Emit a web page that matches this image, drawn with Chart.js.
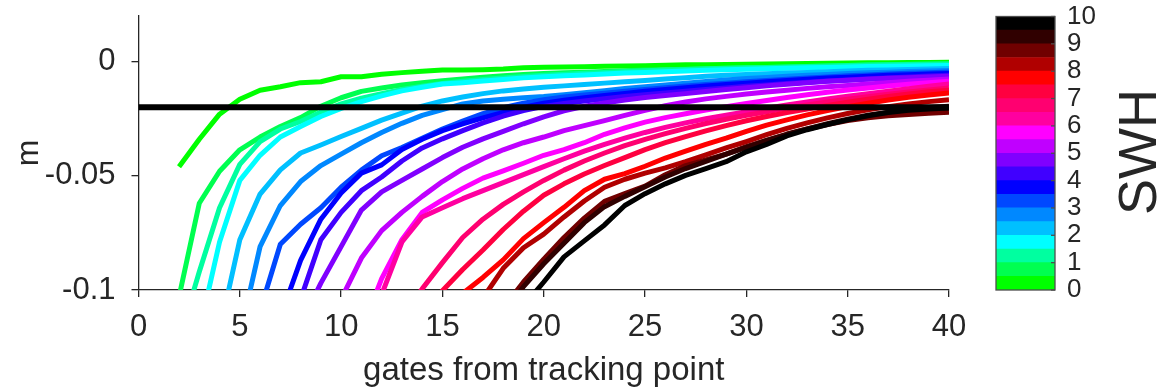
<!DOCTYPE html>
<html>
<head>
<meta charset="utf-8">
<script src="https://cdn.jsdelivr.net/npm/chart.js@4.4.1/dist/chart.umd.min.js"></script>
<style>
  body { margin: 0; background: #fff; }
  #wrap { position: relative; width: 1163px; height: 389px; }
  #errChart { position: absolute; left: 0; top: 0; }
  #barChart { position: absolute; left: 960px; top: 0; }
  #swhLabel {
    position: absolute; left: 1137px; top: 152px;
    transform: translate(-50%, -50%) rotate(-90deg);
    font: 54px "Liberation Sans", Arial, sans-serif;
    color: #262626; white-space: nowrap;
  }
</style>
</head>
<body>
<div id="wrap">
  <canvas id="errChart" width="1163" height="389"></canvas>
  <canvas id="barChart" width="203" height="389"></canvas>
  <div id="swhLabel">SWH</div>
</div>
<script>
const FONT = '"Liberation Sans", Arial, sans-serif';
const INK = '#262626';

// SWH bins (m), one colour per bin
const swhEdges = [0, 0.5, 1, 1.5, 2, 2.5, 3, 3.5, 4, 4.5, 5, 5.5, 6, 6.5, 7, 7.5, 8, 8.5, 9, 9.5, 10];
const swhColors = ['#00ff00', '#00ff50', '#00ffa0', '#00ffff', '#00c0ff', '#0088ff', '#0048ff', '#0000ff',
                   '#4000ff', '#8000ff', '#c000ff', '#ff00ff', '#ff00a0', '#ff0070', '#ff0040', '#ff0000',
                   '#b00000', '#700000', '#300000', '#000000'];

// gate where each bin's curve begins
const firstGate = [2, 2, 2, 3, 4, 5, 6, 7, 8, 8, 10, 11, 12, 13, 14, 16, 17, 18, 18, 19];

// mean error (m) per gate, one array per SWH bin
const bin01 = [-0.046, -0.034, -0.023, -0.0165, -0.0125, -0.011, -0.0092, -0.0088, -0.0066, -0.0066, -0.0055, -0.0048, -0.0042, -0.0037, -0.0037, -0.0035, -0.0032, -0.0027, -0.0024, -0.0023, -0.0022, -0.002, -0.0019, -0.0018, -0.0016, -0.0014, -0.0013, -0.0012, -0.0011, -0.001, -0.0009, -0.0008, -0.0007, -0.0006, -0.0005, -0.0005, -0.0004, -0.0004, -0.0003];
const bin02 = [-0.103, -0.062, -0.048, -0.0386, -0.033, -0.0284, -0.0245, -0.0195, -0.0158, -0.013, -0.0115, -0.0102, -0.0092, -0.0083, -0.0076, -0.0068, -0.0062, -0.0056, -0.0052, -0.0049, -0.0046, -0.0043, -0.004, -0.0037, -0.0035, -0.0033, -0.0031, -0.0029, -0.0027, -0.0025, -0.0023, -0.0021, -0.0019, -0.0017, -0.0015, -0.0013, -0.0011, -0.001, -0.0009];
const bin03 = [-0.122, -0.092, -0.064, -0.045, -0.035, -0.0295, -0.0262, -0.022, -0.0185, -0.016, -0.014, -0.0122, -0.0108, -0.0096, -0.0086, -0.0078, -0.0071, -0.0065, -0.006, -0.0055, -0.0051, -0.0047, -0.0043, -0.004, -0.0037, -0.0034, -0.0031, -0.0029, -0.0027, -0.0025, -0.0023, -0.0021, -0.0019, -0.0017, -0.0015, -0.0013, -0.0012, -0.0011, -0.001];
const bin04 = [-0.118, -0.079, -0.052, -0.041, -0.033, -0.0284, -0.024, -0.0205, -0.0175, -0.015, -0.0128, -0.0112, -0.0098, -0.0092, -0.0085, -0.0078, -0.0071, -0.0066, -0.0062, -0.0058, -0.0054, -0.005, -0.0047, -0.0044, -0.0041, -0.0038, -0.0035, -0.0033, -0.0031, -0.0029, -0.0027, -0.0025, -0.0023, -0.0021, -0.002, -0.0019, -0.0018, -0.0017];
const bin05 = [-0.118, -0.078, -0.058, -0.0474, -0.04, -0.0365, -0.0328, -0.0292, -0.0256, -0.0225, -0.0195, -0.0172, -0.0155, -0.014, -0.0128, -0.012, -0.0112, -0.0106, -0.01, -0.0094, -0.0088, -0.0082, -0.0076, -0.007, -0.0064, -0.006, -0.0056, -0.0053, -0.005, -0.0047, -0.0044, -0.0041, -0.0038, -0.0036, -0.0034, -0.0032, -0.003];
const bin06 = [-0.12, -0.081, -0.063, -0.0525, -0.0455, -0.0405, -0.0355, -0.031, -0.027, -0.0235, -0.021, -0.0185, -0.0172, -0.0165, -0.0158, -0.0153, -0.0145, -0.0136, -0.0127, -0.0118, -0.011, -0.0102, -0.0094, -0.0087, -0.008, -0.0074, -0.0069, -0.0064, -0.006, -0.0056, -0.0052, -0.0049, -0.0046, -0.0043, -0.0041, -0.0039];
const bin07 = [-0.109, -0.08, -0.0712, -0.064, -0.055, -0.0475, -0.0412, -0.0376, -0.0335, -0.0295, -0.026, -0.0228, -0.0202, -0.0182, -0.0167, -0.0155, -0.0146, -0.0138, -0.013, -0.0122, -0.0114, -0.0107, -0.01, -0.0094, -0.0088, -0.0082, -0.0077, -0.0072, -0.0067, -0.0062, -0.0058, -0.0054, -0.0051, -0.0048, -0.0045];
const bin08 = [-0.112, -0.087, -0.069, -0.0575, -0.0488, -0.0452, -0.0385, -0.034, -0.0302, -0.0272, -0.0246, -0.0222, -0.0199, -0.0182, -0.0169, -0.0158, -0.0148, -0.0139, -0.013, -0.0122, -0.0114, -0.0107, -0.01, -0.0094, -0.0088, -0.0082, -0.0077, -0.0072, -0.0068, -0.0064, -0.006, -0.0057, -0.0054, -0.0052];
const bin09 = [-0.104, -0.078, -0.066, -0.0565, -0.0505, -0.0435, -0.0378, -0.0338, -0.0302, -0.0268, -0.0238, -0.0214, -0.0196, -0.0183, -0.0172, -0.0162, -0.0153, -0.0145, -0.0137, -0.0129, -0.0122, -0.0115, -0.0108, -0.0102, -0.0096, -0.009, -0.0085, -0.008, -0.0075, -0.0071, -0.0067, -0.0063, -0.006];
const bin10 = [-0.115, -0.097, -0.081, -0.065, -0.057, -0.052, -0.047, -0.042, -0.0375, -0.0338, -0.0305, -0.0272, -0.0242, -0.0215, -0.0195, -0.0181, -0.0168, -0.0157, -0.0148, -0.014, -0.0131, -0.0122, -0.0114, -0.0106, -0.0099, -0.0092, -0.0086, -0.0081, -0.0077, -0.0073, -0.007, -0.0067, -0.0064];
const bin11 = [-0.104, -0.086, -0.074, -0.066, -0.059, -0.0525, -0.047, -0.0425, -0.0386, -0.0355, -0.033, -0.0302, -0.028, -0.0258, -0.0235, -0.0213, -0.0193, -0.0177, -0.0163, -0.0152, -0.0142, -0.0133, -0.0125, -0.0117, -0.011, -0.0104, -0.0098, -0.0092, -0.0086, -0.0081, -0.0076];
const bin12 = [-0.118, -0.095, -0.078, -0.066, -0.0605, -0.0555, -0.051, -0.0478, -0.0445, -0.041, -0.0385, -0.0355, -0.0318, -0.029, -0.0265, -0.0245, -0.0228, -0.0212, -0.0197, -0.0183, -0.017, -0.0157, -0.0145, -0.0134, -0.0124, -0.0115, -0.0107, -0.0099, -0.0092, -0.0086];
const bin13 = [-0.102, -0.079, -0.068, -0.064, -0.06, -0.0565, -0.053, -0.0495, -0.046, -0.0425, -0.0392, -0.0362, -0.0335, -0.031, -0.0288, -0.0268, -0.025, -0.0234, -0.0219, -0.0204, -0.019, -0.0176, -0.0163, -0.0151, -0.014, -0.0129, -0.0118, -0.0108, -0.0098];
const bin14 = [-0.112, -0.0995, -0.088, -0.077, -0.069, -0.0625, -0.057, -0.052, -0.0475, -0.0435, -0.04, -0.0368, -0.034, -0.0315, -0.0292, -0.0271, -0.0252, -0.0235, -0.0219, -0.0204, -0.019, -0.0177, -0.0165, -0.0154, -0.0143, -0.0133, -0.0124, -0.0115];
const bin15 = [-0.11, -0.1003, -0.091, -0.0825, -0.0735, -0.0655, -0.0585, -0.0535, -0.0492, -0.0455, -0.042, -0.0385, -0.0355, -0.0328, -0.0303, -0.028, -0.0259, -0.024, -0.0223, -0.0207, -0.0192, -0.0178, -0.0165, -0.0153, -0.0142, -0.0132, -0.0125];
const bin16 = [-0.1015, -0.0945, -0.0868, -0.0775, -0.0705, -0.0638, -0.0565, -0.0515, -0.049, -0.0458, -0.0422, -0.0392, -0.0362, -0.0335, -0.0305, -0.0278, -0.0255, -0.0233, -0.0214, -0.0197, -0.0182, -0.0168, -0.0156, -0.0146, -0.0137];
const bin17 = [-0.1035, -0.0905, -0.0815, -0.0755, -0.068, -0.061, -0.055, -0.0515, -0.0488, -0.0465, -0.0438, -0.0408, -0.0378, -0.035, -0.032, -0.0292, -0.0268, -0.0246, -0.0227, -0.0211, -0.0197, -0.0185, -0.0175, -0.0167];
const bin18 = [-0.108, -0.0965, -0.0865, -0.077, -0.0685, -0.0612, -0.0578, -0.0545, -0.0495, -0.0455, -0.043, -0.0405, -0.0372, -0.0345, -0.0318, -0.0295, -0.0275, -0.0258, -0.0246, -0.0237, -0.0231, -0.0226, -0.0222];
const bin19 = [-0.111, -0.0985, -0.0885, -0.0795, -0.0705, -0.0635, -0.059, -0.0548, -0.0505, -0.0468, -0.0437, -0.0405, -0.0375, -0.0345, -0.0318, -0.0294, -0.0272, -0.0252, -0.0235, -0.0221, -0.021, -0.0201, -0.0195];
const bin20 = [-0.107, -0.0965, -0.0855, -0.0785, -0.0715, -0.063, -0.0578, -0.0535, -0.0498, -0.0468, -0.0438, -0.0395, -0.0362, -0.0325, -0.0298, -0.0275, -0.0255, -0.0237, -0.0223, -0.0213, -0.0207, -0.0203];

// reference level drawn across the whole range
const refGates = [0, 40];
const refLevel = -0.02;

const yTicks = [-0.1, -0.05, 0];

const curves = [bin01, bin02, bin03, bin04, bin05, bin06, bin07, bin08, bin09, bin10,
                bin11, bin12, bin13, bin14, bin15, bin16, bin17, bin18, bin19, bin20];

const datasets = curves.map((vals, i) => ({
  data: vals.map((v, k) => ({ x: firstGate[i] + k, y: v })),
  borderColor: swhColors[i],
  borderWidth: 5,
  borderJoinStyle: 'round',
  pointRadius: 0,
  tension: 0,
  clip: 0,
  order: curves.length - i
}));
datasets.push({
  data: refGates.map(g => ({ x: g, y: refLevel })),
  borderColor: '#000',
  borderWidth: 6,
  pointRadius: 0,
  clip: 0,
  order: 0
});

// keep tick-label overhang out of the layout so the plot box stays put
function noOverhang(s) {
  s.paddingTop = 0; s.paddingBottom = 0; s.paddingLeft = 0; s.paddingRight = 0;
}

new Chart(document.getElementById('errChart'), {
  type: 'line',
  data: { datasets },
  options: {
    responsive: false,
    animation: false,
    devicePixelRatio: 1,
    layout: { padding: { left: 0, top: 16, right: 214, bottom: 0 } },
    plugins: { legend: { display: false }, tooltip: { enabled: false } },
    scales: {
      x: {
        type: 'linear', min: 0, max: 40,
        ticks: { stepSize: 5, color: INK, font: { family: FONT, size: 31 }, padding: 12, maxRotation: 0, autoSkip: false },
        grid: { drawOnChartArea: false, tickLength: 7, color: INK, lineWidth: 1.3 },
        border: { color: INK, width: 1.3 },
        title: { display: true, text: 'gates from tracking point', color: INK, font: { family: FONT, size: 33, lineHeight: 1.1 }, padding: 0 },
        afterFit: s => { s.height = 99; noOverhang(s); }
      },
      y: {
        min: -0.1, max: 0.02,
        afterBuildTicks: s => { s.ticks = yTicks.map(v => ({ value: v })); },
        ticks: { color: INK, font: { family: FONT, size: 31 }, padding: 16, callback: v => String(v) },
        grid: { drawOnChartArea: false, tickLength: 7, color: INK, lineWidth: 1.3 },
        border: { color: INK, width: 1.3 },
        title: { display: true, text: 'm', color: INK, font: { family: FONT, size: 32, lineHeight: 1.1 }, padding: { top: 12, bottom: 0 } },
        afterFit: s => { s.width = 138.5; noOverhang(s); }
      }
    }
  }
});

// frame and inward ticks around the colour scale
const barFrame = {
  id: 'barFrame',
  afterDraw(chart) {
    const { ctx, chartArea: a, scales: { y } } = chart;
    ctx.save();
    ctx.strokeStyle = '#4d4d4d';
    ctx.lineWidth = 1.3;
    ctx.strokeRect(a.left, a.top, a.right - a.left, a.bottom - a.top);
    y.ticks.forEach(t => {
      const py = y.getPixelForValue(t.value);
      ctx.beginPath();
      ctx.moveTo(a.right, py);
      ctx.lineTo(a.right - 4, py);
      ctx.stroke();
    });
    ctx.restore();
  }
};

new Chart(document.getElementById('barChart'), {
  type: 'bar',
  data: {
    labels: ['SWH'],
    datasets: swhColors.map((c, i) => ({
      data: [[swhEdges[i], swhEdges[i + 1]]],
      backgroundColor: c,
      borderWidth: 0,
      barPercentage: 1,
      categoryPercentage: 1
    }))
  },
  options: {
    responsive: false,
    animation: false,
    devicePixelRatio: 1,
    layout: { padding: { left: 36, top: 16.5, right: 0, bottom: 99 } },
    plugins: { legend: { display: false }, tooltip: { enabled: false } },
    scales: {
      x: { display: false, stacked: true },
      y: {
        position: 'right', min: 0, max: 10,
        ticks: { stepSize: 1, autoSkip: false, color: INK, font: { family: FONT, size: 26, lineHeight: 1 }, padding: 12 },
        grid: { display: false, drawTicks: false },
        border: { display: false },
        afterFit: s => { s.width = 108; noOverhang(s); }
      }
    }
  },
  plugins: [barFrame]
});
</script>
</body>
</html>
